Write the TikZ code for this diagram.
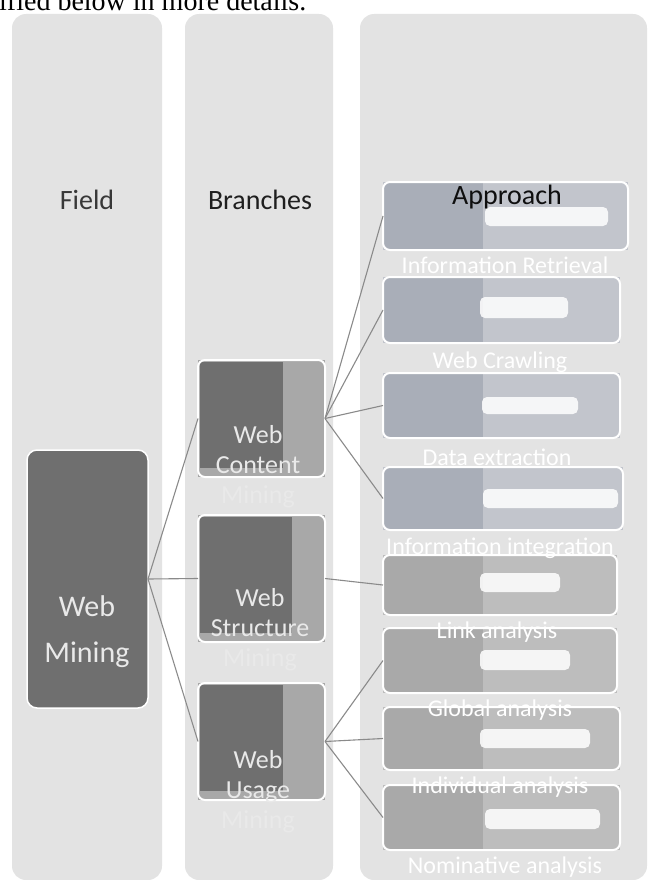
\documentclass[tikz,border=0pt]{standalone}
\usepackage{fontspec}
\setmainfont{Carlito}
\newfontfamily\bodyserif{Liberation Serif}

% palette
\definecolor{colbg}{HTML}{E3E3E3}
\definecolor{darkbox}{HTML}{6F6F6F}
\definecolor{branchlight}{HTML}{A8A8A8}
\definecolor{blueleft}{HTML}{A9AEB8}
\definecolor{blueright}{HTML}{C2C5CC}
\definecolor{greyleft}{HTML}{A9A9A9}
\definecolor{greyright}{HTML}{BDBDBD}
\definecolor{wire}{HTML}{8A8A8A}
\definecolor{softtext}{HTML}{E9E9E9}

\tikzset{
  colbox/.style={fill=colbg, rounded corners=14pt, inner sep=0pt, outer sep=0pt},
  header/.style={font=\fontsize{28}{32}\selectfont, inner sep=0pt},
  fieldbox/.style={fill=darkbox, draw=white, line width=1.5pt, rounded corners=10pt, inner sep=0pt, outer sep=0pt},
  branchbox/.style={fill=branchlight, inner sep=0pt, outer sep=0pt},
  apbox/.style={inner sep=0pt, outer sep=0pt},
  halo/.style={draw=white, line width=2pt, rounded corners=7pt},
  smudge/.style={fill=white, opacity=0.85, rounded corners=5pt},
  brtext/.style={text=softtext, align=center, font=\fontsize{26}{30}\selectfont, inner sep=0pt},
  aplabel/.style={text=white, font=\fontsize{24}{28}\selectfont, inner sep=0pt},
  wireline/.style={draw=wire, line width=1.1pt},
}

% branch box: name, centre x, centre y, width, height, width of dark part
\newcommand\branchbox[6]{%
  \node[branchbox, minimum width=#4, minimum height=#5] (#1) at (#2,#3) {};
  \begin{scope}
    \clip[rounded corners=8pt] (#1.north west) rectangle (#1.south east);
    \fill[darkbox] ([xshift=2pt,yshift=-2pt]#1.north west) rectangle ([xshift=#6pt,yshift=9pt]#1.south west);
  \end{scope}
  \draw[halo] (#1.north west) rectangle (#1.south east);
}

% approach box: name, centre x, centre y, width, height, tone
\newcommand\approachbox[6]{%
  \node[apbox, fill=#6right, minimum width=#4, minimum height=#5] (#1) at (#2,#3) {};
  \begin{scope}
    \clip[rounded corners=7pt] (#1.north west) rectangle (#1.south east);
    \fill[#6left] (#1.north west) rectangle ([xshift=100pt]#1.south west);
  \end{scope}
  \draw[halo] (#1.north west) rectangle (#1.south east);
}

\begin{document}
\begin{tikzpicture}[x=1pt,y=-1pt]
\useasboundingbox (0,0) rectangle (651,880);
\clip (0,0) rectangle (651,880);

% running text above the figure
\node[anchor=base west, inner sep=0pt, font=\bodyserif\fontsize{28}{30}\selectfont] (intro) at (-1,11) {ified below in more details.};

% three columns
\node[colbox, minimum width=150, minimum height=866] (colField) at (87,447) {};
\node[colbox, minimum width=148, minimum height=866] (colBranch) at (259,447) {};
\node[colbox, minimum width=287, minimum height=866] (colApproach) at (503.5,447) {};

% column headers
\node[header, text=black!78] (hField) at (87,200) {Field};
\node[header, text=black!88] (hBranch) at (260,200) {Branches};

% field
\node[fieldbox, minimum width=121, minimum height=258] (wm) at (87.5,579) {};
\node[text=softtext, align=center, font=\fontsize{30}{46}\selectfont, inner sep=0pt] (wmText) at (87,632) {Web\\Mining};

% branches
\branchbox{bc}{261.5}{418.5}{127}{117}{85}
\branchbox{bs}{261.5}{578.5}{127}{127}{94}
\branchbox{bu}{261.5}{741.5}{127}{117}{85}

% approaches
\approachbox{ir}{505.5}{216}{245}{68}{blue}
\approachbox{wc}{501.5}{310}{237}{66}{blue}
\approachbox{de}{501.5}{405.5}{237}{65}{blue}
\approachbox{ii}{503}{498.5}{240}{63}{blue}
\approachbox{la}{500}{585}{234}{60}{grey}
\approachbox{ga}{500}{660.5}{234}{65}{grey}
\approachbox{ia}{501.5}{738.5}{237}{63}{grey}
\approachbox{na}{501.5}{817.5}{237}{65}{grey}

% white smudges inside the approach boxes
\fill[smudge] (485,207) rectangle (608,226);
\fill[smudge] (480,297) rectangle (568,318);
\fill[smudge] (482,397) rectangle (578,414);
\fill[smudge] (483,489) rectangle (618,508);
\fill[smudge] (480,573) rectangle (560,592);
\fill[smudge] (480,650) rectangle (570,670);
\fill[smudge] (480,729) rectangle (590,748);
\fill[smudge] (485,809) rectangle (600,829);

\node[header, text=black!94] (hApproach) at (507,197) {Approach};

% branch labels
\node[brtext] (bcText) at (258,467) {Web\\Content\\Mining};
\node[brtext] (bsText) at (260,630) {Web\\Structure\\Mining};
\node[brtext] (buText) at (258,792) {Web\\Usage\\Mining};

% approach labels
\node[aplabel] (irText) at (505,265) {Information Retrieval};
\node[aplabel] (wcText) at (500,362) {Web Crawling};
\node[aplabel] (deText) at (497,457) {Data extraction};
\node[aplabel] (iiText) at (500,548) {Information integration};
\node[aplabel] (laText) at (497,632) {Link analysis};
\node[aplabel] (gaText) at (500,710) {Global analysis};
\node[aplabel] (iaText) at (500,787) {Individual analysis};
\node[aplabel] (naText) at (505,867) {Nominative analysis};

% connectors
\draw[wireline] (wm.east) -- (bc.west);
\draw[wireline] (wm.east) -- (bs.west);
\draw[wireline] (wm.east) -- (bu.west);

\draw[wireline] (bc.east) -- (ir.west);
\draw[wireline] (bc.east) -- (wc.west);
\draw[wireline] (bc.east) -- (de.west);
\draw[wireline] (bc.east) -- (ii.west);

\draw[wireline] (bs.east) -- (la.west);

\draw[wireline] (bu.east) -- (ga.west);
\draw[wireline] (bu.east) -- (ia.west);
\draw[wireline] (bu.east) -- (na.west);
\end{tikzpicture}
\end{document}
